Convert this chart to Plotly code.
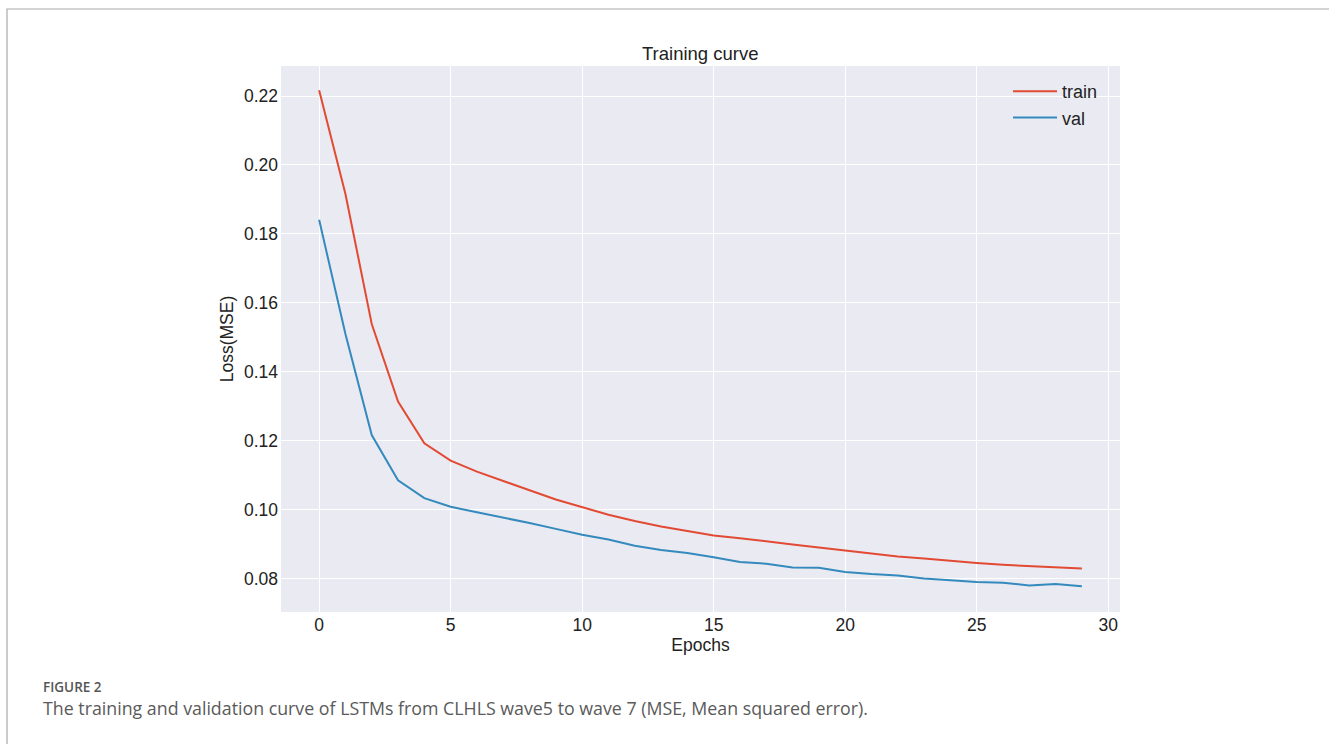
import plotly.graph_objects as go

epochs = list(range(30))
train_loss = [0.2217, 0.1916, 0.1539, 0.1314, 0.1193, 0.1143, 0.1111, 0.1085, 0.1057, 0.1030,
              0.1009, 0.0986, 0.0968, 0.0952, 0.0939, 0.0926, 0.0918, 0.0908, 0.0900, 0.0891,
              0.0882, 0.0873, 0.0865, 0.0859, 0.0852, 0.0846, 0.0841, 0.0838, 0.0835, 0.0830]
val_loss = [0.1841, 0.1510, 0.1217, 0.1086, 0.1034, 0.1009, 0.0993, 0.0978, 0.0962, 0.0945,
            0.0928, 0.0914, 0.0896, 0.0884, 0.0875, 0.0863, 0.0849, 0.0844, 0.0833, 0.0832,
            0.0820, 0.0814, 0.0810, 0.0801, 0.0795, 0.0791, 0.0789, 0.0781, 0.0785, 0.0779]
y_ticks = [0.08, 0.10, 0.12, 0.14, 0.16, 0.18, 0.20, 0.22]
x_ticks = [0, 5, 10, 15, 20, 25, 30]

W, H = 1329, 744
L, R, T, B = 281, 1120, 66, 612


def px(x):
    return (x - L) / (R - L)


def py(y):
    return (B - y) / (B - T)


fig = go.Figure()
fig.add_trace(go.Scatter(x=epochs, y=train_loss, mode="lines", name="train",
                         line=dict(color="#E24A33", width=2)))
fig.add_trace(go.Scatter(x=epochs, y=val_loss, mode="lines", name="val",
                         line=dict(color="#348ABD", width=2)))

font = "Liberation Sans, Arial, sans-serif"
fig.update_layout(
    width=W, height=H,
    margin=dict(l=L, r=W - R, t=T, b=H - B),
    paper_bgcolor="white",
    plot_bgcolor="#EAEAF2",
    font=dict(family=font, size=17, color="#222222"),
    showlegend=True,
    legend=dict(x=px(1008), y=py(73), xanchor="left", yanchor="top",
                bgcolor="rgba(0,0,0,0)", font=dict(size=18, color="#222222"),
                tracegroupgap=0, itemwidth=44),
    xaxis=dict(range=[-1.45, 30.45], tickvals=x_ticks, showgrid=True, gridcolor="white",
               gridwidth=1.3, zeroline=False, showline=False, ticks="",
               tickfont=dict(size=17.5), title=dict(text="Epochs", font=dict(size=17.5), standoff=4)),
    yaxis=dict(range=[0.0704, 0.2287], tickvals=y_ticks, tickformat=".2f", showgrid=True,
               gridcolor="white", gridwidth=1.3, zeroline=False, showline=False, ticks="",
               ticklabelstandoff=2,
               tickfont=dict(size=17.5), title=dict(text="Loss(MSE)", font=dict(size=17.5), standoff=5)),
    shapes=[dict(type="rect", xref="paper", yref="paper", x0=px(7), x1=px(1345),
                 y0=py(760), y1=py(9), line=dict(color="#AAAAAA", width=1.2),
                 fillcolor="rgba(0,0,0,0)", layer="below")],
    annotations=[
        dict(text="Training curve", xref="paper", yref="paper", x=px(700), y=py(53),
             showarrow=False, font=dict(size=18.5, color="#222222"), xanchor="center", yanchor="middle"),
        dict(text="FIGURE 2", xref="paper", yref="paper", x=px(41), y=py(687),
             showarrow=False, font=dict(family="Open Sans, sans-serif", size=13.5, color="#555555", weight=600),
             xanchor="left", yanchor="middle"),
        dict(text="The training and validation curve of LSTMs from CLHLS wave5 to wave 7 (MSE, Mean squared error).",
             xref="paper", yref="paper", x=px(41), y=py(708), showarrow=False,
             font=dict(family="Open Sans, sans-serif", size=17.8, color="#5a5a5a"),
             xanchor="left", yanchor="middle"),
    ],
)

fig.write_html("out.html")
